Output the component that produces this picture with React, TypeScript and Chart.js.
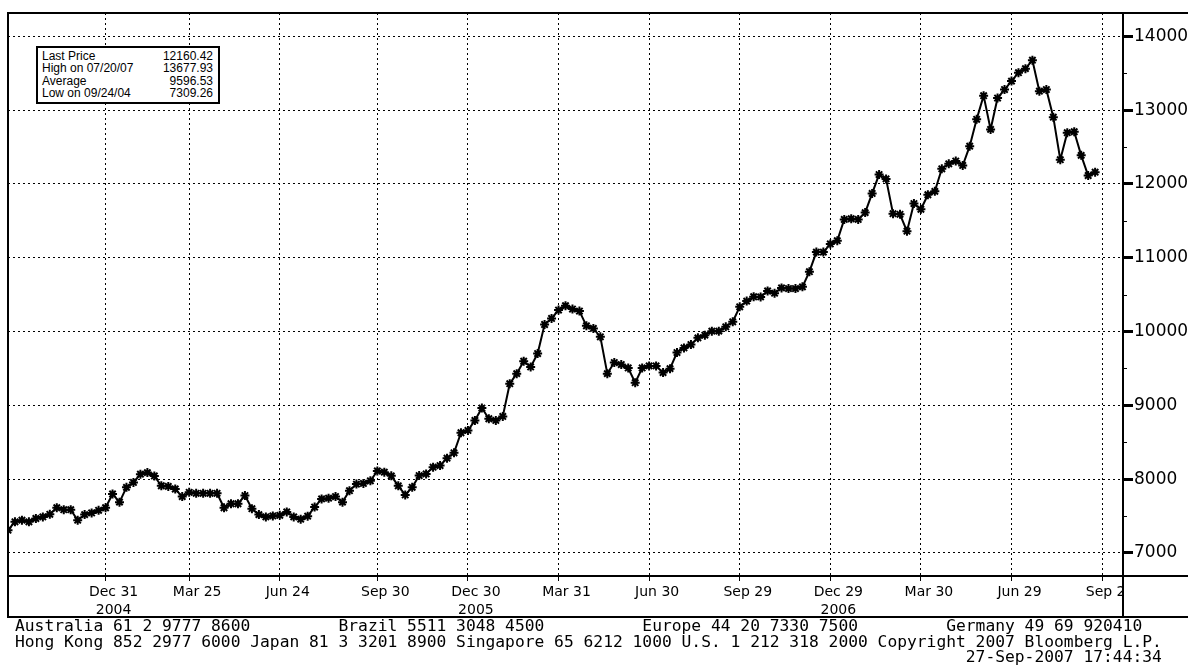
import React, { useEffect, useRef } from 'react';
import { Chart, registerables } from 'chart.js';

Chart.register(...registerables);

// Weekly closes, week 0 = 24 Sep 2004
const VALUES = [
  7309, 7422, 7444, 7422, 7467, 7489, 7524, 7613, 7587, 7587,
  7444, 7520, 7542, 7578, 7613, 7800, 7689, 7889, 7956, 8067,
  8089, 8044, 7911, 7902, 7867, 7764, 7822, 7809, 7809, 7809,
  7809, 7613, 7667, 7667, 7778, 7600, 7520, 7489, 7502, 7511,
  7556, 7489, 7458, 7498, 7622, 7733, 7742, 7764, 7689, 7844,
  7933, 7942, 7978, 8111, 8095, 8045, 7910, 7786, 7890, 8049,
  8071, 8162, 8185, 8284, 8357, 8629, 8660, 8796, 8964, 8819,
  8796, 8850, 9294, 9430, 9598, 9521, 9702, 10096, 10178, 10292,
  10350, 10305, 10278, 10078, 10042, 9929, 9430, 9580, 9553, 9507,
  9308, 9507, 9535, 9535, 9444, 9498, 9716, 9779, 9824, 9915,
  9952, 10006, 10006, 10065, 10133, 10336, 10413, 10472, 10470, 10550,
  10520, 10592, 10583, 10583, 10606, 10812, 11077, 11077, 11187, 11232,
  11520, 11529, 11520, 11612, 11872, 12128, 12069, 11598, 11589, 11360,
  11735, 11657, 11854, 11900, 12206, 12274, 12311, 12251, 12512, 12877,
  13197, 12740, 13165, 13280, 13394, 13508, 13563, 13678, 13257, 13280,
  12905, 12329, 12695, 12708, 12388, 12114, 12160,
];

const X_TICK_WEEKS = [14, 26, 39, 53, 66, 79, 92, 105, 118, 131, 144, 157];
const X_TICK_LABELS = ['Dec 31', 'Mar 25', 'Jun 24', 'Sep 30', 'Dec 30', 'Mar 31', 'Jun 30', 'Sep 29', 'Dec 29', 'Mar 30', 'Jun 29', 'Sep 28'];
const X_TICK_YEARS = ['2004', '', '', '', '2005', '', '', '', '2006', '', '', ''];

const Y_TICKS = [7000, 8000, 9000, 10000, 11000, 12000, 13000, 14000];
const Y_MINOR = [7500, 8500, 9500, 10500, 11500, 12500, 13500];

const STAT_LABELS = ['Last Price', 'High on 07/20/07', 'Average', 'Low on 09/24/04'];
const STAT_VALUES = ['12160.42', '13677.93', '9596.53', '7309.26'];

const FOOTER_LINES = [
  'Australia 61 2 9777 8600         Brazil 5511 3048 4500          Europe 44 20 7330 7500         Germany 49 69 920410',
  'Hong Kong 852 2977 6000 Japan 81 3 3201 8900 Singapore 65 6212 1000 U.S. 1 212 318 2000 Copyright 2007 Bloomberg L.P.',
  '                                                                                                 27-Sep-2007 17:44:34',
];

export default function App() {
  const ref = useRef<HTMLCanvasElement>(null);

  useEffect(() => {
    document.body.style.margin = '0';
    const canvas = ref.current;
    if (!canvas) return;

    const framePlugin = {
      id: 'frame',
      afterDraw(chart: any) {
        const c = chart.ctx;
        const a = chart.chartArea;
        const W = chart.width;
        const bandBottom = a.bottom + 41;
        c.save();
        c.fillStyle = '#fff';
        c.fillRect(a.right + 1, a.bottom + 1, W - a.right - 1, bandBottom - a.bottom - 2);
        const ys = chart.scales.y;
        c.strokeStyle = '#000';
        c.lineWidth = 1;
        for (const v of Y_MINOR) {
          const py = Math.round(ys.getPixelForValue(v)) + 0.5;
          c.beginPath();
          c.moveTo(a.right, py);
          c.lineTo(a.right + 4, py);
          c.stroke();
        }
        c.lineWidth = 2;
        c.beginPath();
        c.rect(a.left, a.top, a.right - a.left, a.bottom - a.top);
        c.moveTo(a.left, a.bottom);
        c.lineTo(a.left, bandBottom);
        c.moveTo(a.left - 1, bandBottom);
        c.lineTo(W, bandBottom);
        c.moveTo(a.right, a.top);
        c.lineTo(W, a.top);
        c.moveTo(a.right, a.bottom);
        c.lineTo(W, a.bottom);
        c.moveTo(a.right, a.top);
        c.lineTo(a.right, bandBottom);
        c.stroke();
        c.restore();
      },
    };

    const chart = new Chart(canvas, {
      type: 'line',
      data: {
        datasets: [
          {
            data: VALUES.map((v, i) => ({ x: i, y: v })),
            borderColor: '#000',
            borderWidth: 2,
            pointStyle: 'star',
            pointRadius: 4.5,
            pointBorderWidth: 2,
            pointBorderColor: '#000',
            pointBackgroundColor: '#000',
            tension: 0,
          },
        ],
      },
      options: {
        responsive: false,
        maintainAspectRatio: false,
        animation: false,
        events: [],
        layout: { padding: { left: 8, top: 13, right: 0, bottom: 3 } },
        plugins: { legend: { display: false }, tooltip: { enabled: false } },
        scales: {
          x: {
            type: 'linear',
            min: 0,
            max: 160,
            afterBuildTicks: (s: any) => {
              s.ticks = X_TICK_WEEKS.map((v) => ({ value: v }));
            },
            afterFit: (s: any) => {
              s.height = 41;
            },
            grid: {
              color: '#000',
              lineWidth: 1,
              drawTicks: true,
              tickLength: 5,
              tickColor: '#000',
              tickWidth: 1,
              tickBorderDash: [],
            },
            border: { display: true, color: '#000', width: 2, dash: [2, 3] },
            ticks: {
              autoSkip: false,
              maxRotation: 0,
              padding: 2,
              labelOffset: 8,
              color: '#000',
              font: { family: 'DejaVu Sans', size: 14, lineHeight: 1.3 },
              callback: (v: any) => {
                const i = X_TICK_WEEKS.indexOf(Number(v));
                return i < 0 ? '' : [X_TICK_LABELS[i], X_TICK_YEARS[i]];
              },
            },
          },
          y: {
            type: 'linear',
            position: 'right',
            min: 6688,
            max: 14317,
            afterBuildTicks: (s: any) => {
              s.ticks = Y_TICKS.map((v) => ({ value: v }));
            },
            afterFit: (s: any) => {
              s.width = 65;
            },
            grid: {
              color: '#000',
              lineWidth: 1,
              drawTicks: true,
              tickLength: 10,
              tickColor: '#000',
              tickWidth: 3,
              tickBorderDash: [],
            },
            border: { display: true, color: '#000', width: 2, dash: [2, 3] },
            ticks: {
              padding: 1,
              color: '#000',
              font: { family: 'DejaVu Sans', size: 17 },
              callback: (v: any) => String(v),
            },
          },
        },
      },
      plugins: [framePlugin],
    } as any);

    return () => chart.destroy();
  }, []);

  return (
    <div style={{ position: 'relative', width: 1188, height: 665, background: '#fff', overflow: 'hidden' }}>
      <canvas ref={ref} width={1188} height={620} style={{ position: 'absolute', left: 0, top: 0, width: 1188, height: 620 }} />
      <div
        style={{
          position: 'absolute',
          left: 36,
          top: 46,
          width: 184,
          height: 58,
          boxSizing: 'border-box',
          border: '2px solid #000',
          background: '#fff',
          fontFamily: '"Liberation Sans", Arial, sans-serif',
          fontSize: 12,
          lineHeight: '12.3px',
          color: '#000',
          padding: '2px 5px 0 4px',
        }}
      >
        {STAT_LABELS.map((l, i) => (
          <div key={l} style={{ display: 'flex', justifyContent: 'space-between' }}>
            <span>{l}</span>
            <span>{STAT_VALUES[i]}</span>
          </div>
        ))}
      </div>
      <pre
        style={{
          position: 'absolute',
          left: 15,
          top: 618,
          margin: 0,
          fontFamily: '"DejaVu Sans Mono", "Liberation Mono", monospace',
          fontSize: 16.3,
          lineHeight: '15.5px',
          color: '#000',
        }}
      >
        {FOOTER_LINES.join('\n')}
      </pre>
    </div>
  );
}
